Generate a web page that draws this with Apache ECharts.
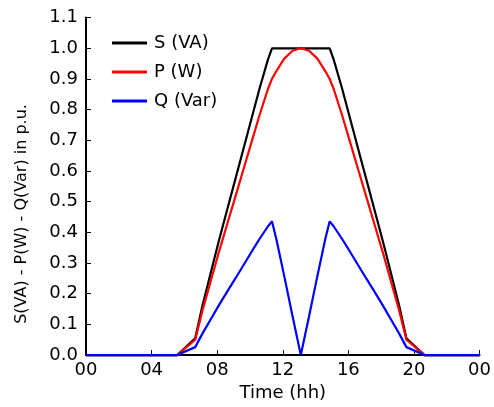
<!DOCTYPE html>
<html>
<head>
<meta charset="utf-8">
<script src="https://cdn.jsdelivr.net/npm/echarts@6/dist/echarts.min.js"></script>
<style>
html,body{margin:0;padding:0;background:#fff;}
#c{width:494px;height:407px;}
</style>
</head>
<body>
<div id="c"></div>
<script>
// Time in hours
var hours = [0, 5.56, 6.66, 7.1, 7.6, 8.1, 8.6, 9.1, 9.6, 10.1, 10.6, 11.1, 11.34, 11.6, 12.1, 12.6, 13.1, 13.6, 14.1, 14.6, 14.86, 15.1, 15.6, 16.1, 16.6, 17.1, 17.6, 18.1, 18.6, 19.1, 19.54, 20.64, 24];
var sVA = [0, 0, 0.055, 0.161, 0.267, 0.372, 0.472, 0.572, 0.672, 0.772, 0.872, 0.964, 1.0, 1.0, 1.0, 1.0, 1.0, 1.0, 1.0, 1.0, 1.0, 0.964, 0.872, 0.772, 0.672, 0.572, 0.472, 0.372, 0.267, 0.161, 0.055, 0, 0];
var pW = [0, 0, 0.050, 0.145, 0.240, 0.335, 0.425, 0.515, 0.605, 0.695, 0.785, 0.868, 0.900, 0.925, 0.967, 0.992, 1.000, 0.992, 0.967, 0.925, 0.900, 0.868, 0.785, 0.695, 0.605, 0.515, 0.425, 0.335, 0.240, 0.145, 0.050, 0, 0];
var qVar = [0, 0, 0.026, 0.070, 0.116, 0.162, 0.206, 0.249, 0.293, 0.337, 0.380, 0.420, 0.436, 0.380, 0.255, 0.126, 0, 0.126, 0.255, 0.380, 0.436, 0.420, 0.380, 0.337, 0.293, 0.249, 0.206, 0.162, 0.116, 0.070, 0.026, 0, 0];
var seriesNames = ['S (VA)', 'P (W)', 'Q (Var)'];
var xTickLabels = ['00', '04', '08', '12', '16', '20', '00'];
var yLabel = 'S(VA) - P(W) - Q(Var) in p.u.';
var xLabel = 'Time (hh)';

function pairs(vals) { return hours.map(function (h, i) { return [h, vals[i]]; }); }

var FONT = 'DejaVu Sans';
var chart = echarts.init(document.getElementById('c'), null, {renderer: 'canvas'});
var lineSeries = [sVA, pW, qVar].map(function (vals, i) {
  return {
    name: seriesNames[i],
    type: 'line',
    data: pairs(vals),
    showSymbol: false,
    clip: false,
    lineStyle: {width: 2.2},
    emphasis: {disabled: true}
  };
});
chart.setOption({
  animation: false,
  color: ['#000000', '#ff0000', '#0000ff'],
  grid: {left: 86, right: 6, top: 17.6, bottom: 48},
  legend: {
    orient: 'vertical',
    left: 112,
    top: 34,
    padding: 0,
    itemWidth: 35,
    itemHeight: 3,
    itemGap: 11,
    icon: 'rect',
    data: seriesNames,
    textStyle: {fontFamily: FONT, fontSize: 18, color: '#000', padding: [0, 0, 0, 2]}
  },
  xAxis: {
    type: 'value',
    min: 0, max: 24, interval: 4,
    name: xLabel,
    nameLocation: 'middle',
    nameGap: 27,
    nameTextStyle: {fontFamily: FONT, fontSize: 18, color: '#000'},
    axisLine: {lineStyle: {color: '#000', width: 2}},
    axisTick: {inside: true, length: 5, lineStyle: {color: '#000', width: 1}},
    axisLabel: {
      fontFamily: FONT, fontSize: 18, color: '#000', margin: 6,
      formatter: function (v) { return xTickLabels[Math.round(v / 4)]; }
    },
    splitLine: {show: false}
  },
  yAxis: {
    type: 'value',
    min: 0, max: 1.1, interval: 0.1,
    axisLine: {show: true, lineStyle: {color: '#000', width: 2}},
    axisTick: {show: true, inside: true, length: 5, lineStyle: {color: '#000', width: 1}},
    axisLabel: {
      fontFamily: FONT, fontSize: 18, color: '#000', margin: 8,
      formatter: function (v) { return v.toFixed(1); }
    },
    splitLine: {show: false}
  },
  graphic: [{
    type: 'text',
    x: 22, y: 214,
    rotation: Math.PI / 2,
    style: {text: yLabel, font: '16px "DejaVu Sans"', fill: '#000', textAlign: 'center', textVerticalAlign: 'middle'}
  }],
  series: lineSeries
});
</script>
</body>
</html>
